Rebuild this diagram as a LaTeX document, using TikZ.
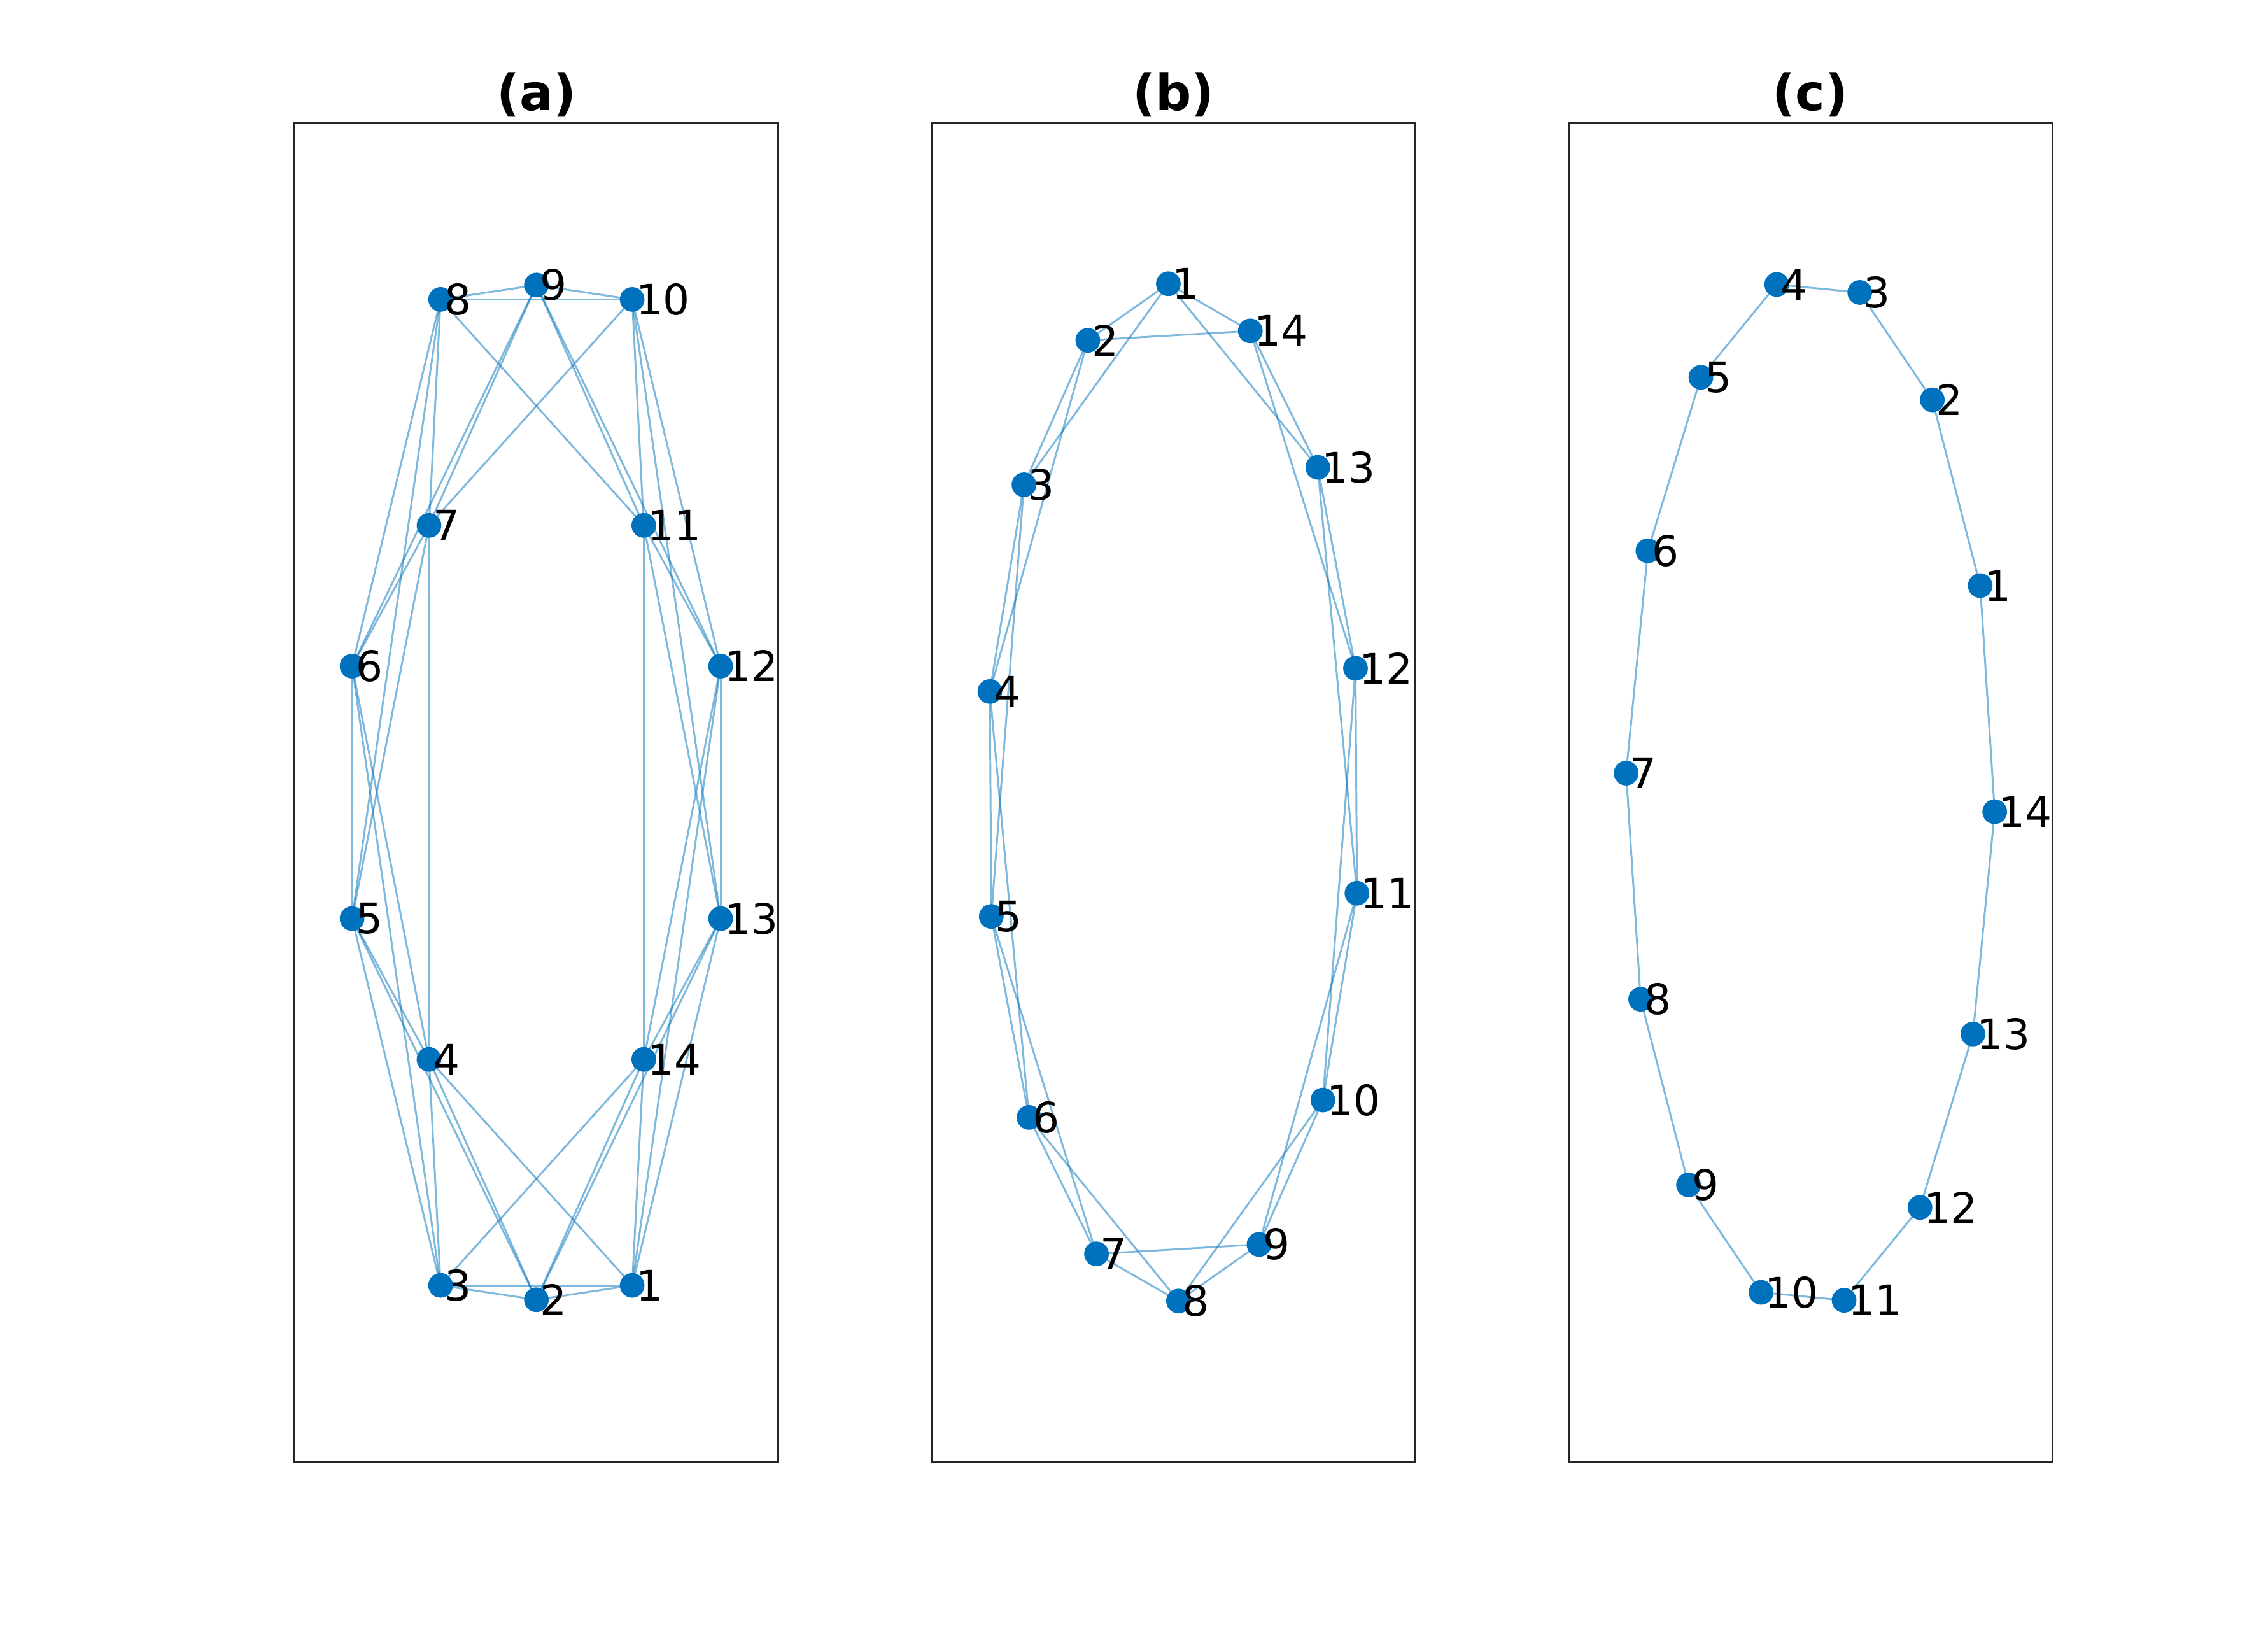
\documentclass[tikz,border=0pt]{standalone}
\usepackage{fontspec}
\setmainfont{DejaVu Sans}
\definecolor{mblue}{HTML}{0072BD}
\definecolor{axgray}{HTML}{262626}
\begin{document}
\begin{tikzpicture}[x=1pt,y=-1pt,
  edge/.style={draw=mblue, draw opacity=0.5, line width=1.3pt},
  dot/.style={circle, fill=mblue, inner sep=0pt, minimum size=17pt},
  lbl/.style={anchor=west, inner sep=0pt, xshift=2.5pt, font=\fontsize{29}{34}\selectfont},
  ttl/.style={anchor=base, inner sep=0pt, font=\fontsize{34.5}{40}\selectfont\bfseries},
  frame/.style={draw=axgray, line width=1.35pt}]
\useasboundingbox (0,0) rectangle (1563,1132.2);
\fill[white] (0,0) rectangle (1563,1132.2);

% axes frames
\draw[frame] (203,84.8) rectangle (536.3,1007.3);
\draw[frame] (642,84.8) rectangle (975.3,1007.3);
\draw[frame] (1081,84.8) rectangle (1414.3,1007.3);

% titles
\node[ttl] (ta) at (369.65,76.3) {(a)};
\node[ttl] (tb) at (808.65,76.3) {(b)};
\node[ttl] (tc) at (1247.65,76.3) {(c)};

% node positions
\begin{scope}[shift={(369.65,546.05)}]
\foreach \n/\x/\y in {1/66/339.7, 2/0/349.6, 3/-66/339.7, 4/-74/184, 5/-127/87,
  6/-127/-87, 7/-74/-184, 8/-66/-339.7, 9/0/-349.6, 10/66/-339.7, 11/74/-184,
  12/127/-87, 13/127/87, 14/74/184}
  \coordinate (a\n) at (\x,\y);
\end{scope}
\begin{scope}[shift={(808.65,546.05)}]
\foreach \n/\x/\y in {1/-3.5/-350.5, 2/-59/-311.5, 3/-103/-212, 4/-126.5/-69.5,
  5/-125.5/85.5, 6/-99.5/224, 7/-53/318, 8/3.5/350.5, 9/59/311.5, 10/103/212,
  11/126.5/69.5, 12/125.5/-85.5, 13/99.5/-224, 14/53/-318}
  \coordinate (b\n) at (\x,\y);
\end{scope}
\begin{scope}[shift={(1247.65,546.05)}]
\foreach \n/\x/\y in {1/117/-142.5, 2/84/-270.5, 3/34/-344.5, 4/-23.2/-350,
  5/-75.5/-286, 6/-112/-166.5, 7/-127/-13.3, 8/-117/142.5, 9/-84/270.5,
  10/-34/344.5, 11/23.2/350, 12/75.5/286, 13/112/166.5, 14/127/13.3}
  \coordinate (c\n) at (\x,\y);
\end{scope}

% edges: ring lattices with 3, 2 and 1 neighbours on each side
\foreach \i in {1,...,14}{
  \foreach \k in {1,2,3}{
    \pgfmathtruncatemacro{\j}{mod(\i+\k-1,14)+1}
    \draw[edge] (a\i) -- (a\j);
  }
  \foreach \k in {1,2}{
    \pgfmathtruncatemacro{\j}{mod(\i+\k-1,14)+1}
    \draw[edge] (b\i) -- (b\j);
  }
  \pgfmathtruncatemacro{\j}{mod(\i,14)+1}
  \draw[edge] (c\i) -- (c\j);
}

% node markers and labels
\foreach \p in {a,b,c}{
  \foreach \i in {1,...,14}{
    \node[dot] (\p d\i) at (\p\i) {};
  }
  \foreach \i in {1,...,14}{
    \node[lbl] (\p l\i) at (\p\i) {\i};
  }
}
\end{tikzpicture}
\end{document}
